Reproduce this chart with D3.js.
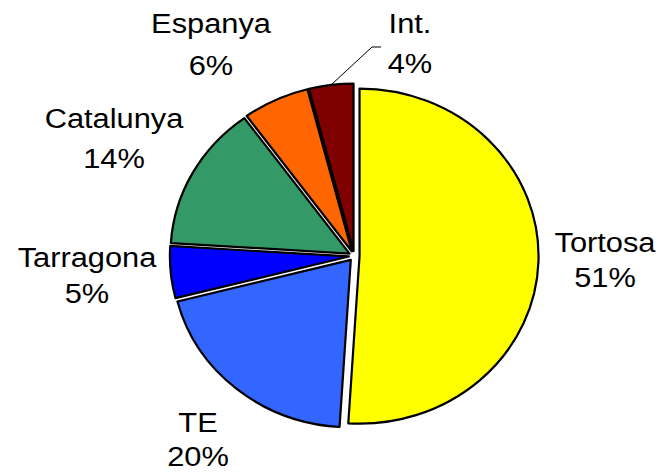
<!DOCTYPE html>
<html>
<head>
<meta charset="utf-8">
<script src="https://cdn.jsdelivr.net/npm/d3@7"></script>
<style>
  html, body { margin: 0; padding: 0; background: #fff; }
  svg { display: block; }
  text { font-family: "Liberation Sans", Arial, sans-serif; font-size: 28px; fill: #000; }
</style>
</head>
<body>
<svg id="chart" width="662" height="472"></svg>
<script>
// ---- data ----
const categories = ["Tortosa", "TE", "Tarragona", "Catalunya", "Espanya", "Int."];
const values = [51, 20, 5, 14, 6, 4];
const percentLabels = ["51%", "20%", "5%", "14%", "6%", "4%"];
const colors = ["#FFFF00", "#3366FF", "#0000FF", "#339966", "#FF6600", "#800000"];

// ---- layout (label anchor points: center x, baseline of name, baseline of percent) ----
const labelLayout = [
  [605, 252, 287],
  [198, 432, 466],
  [87, 267, 303],
  [114, 128, 168],
  [211, 33, 75],
  [410, 33, 73]
];

const W = 662, H = 472;
const cx = 354.2, cy = 256;
const R = 167.5;          // vertical radius
const sx = 179 / 167.5;   // horizontal stretch of the pie
const explode = 5;

const svg = d3.select("#chart");

const pie = d3.pie().sort(null).value(d => d)(values);
const arc = d3.arc().innerRadius(0).outerRadius(R);

const g = svg.append("g").attr("transform", `translate(${cx},${cy}) scale(${sx},1)`);

pie.forEach((p, i) => {
  const mid = (p.startAngle + p.endAngle) / 2;
  const ox = explode * Math.sin(mid);
  const oy = -explode * Math.cos(mid);
  g.append("path")
    .attr("d", arc(p))
    .attr("transform", `translate(${ox},${oy})`)
    .attr("fill", colors[i])
    .attr("stroke", "#000")
    .attr("stroke-width", 2.2)
    .attr("stroke-linejoin", "round")
    .attr("vector-effect", "non-scaling-stroke");
});

// labels
pie.forEach((p, i) => {
  const [lx, b1, b2] = labelLayout[i];
  const tg = svg.append("g");
  tg.append("text")
    .attr("text-anchor", "middle")
    .attr("transform", `translate(${lx},${b1}) scale(1.1,1)`)
    .text(categories[i]);
  tg.append("text")
    .attr("text-anchor", "middle")
    .attr("transform", `translate(${lx},${b2}) scale(1.1,1)`)
    .text(percentLabels[i]);
});

// leader line for the small "Int." slice
{
  const i = 5, p = pie[i];
  const mid = (p.startAngle + p.endAngle) / 2;
  const px = cx + sx * (explode + R) * Math.sin(mid);
  const py = cy - (explode + R) * Math.cos(mid);
  const [lx, b1, b2] = labelLayout[i];
  const ly = (b1 + b2) / 2 - 6;
  svg.append("polyline")
    .attr("points", `${px},${py} ${lx - 38},${ly} ${lx - 29},${ly}`)
    .attr("fill", "none")
    .attr("stroke", "#000")
    .attr("stroke-width", 1);
}
</script>
</body>
</html>
